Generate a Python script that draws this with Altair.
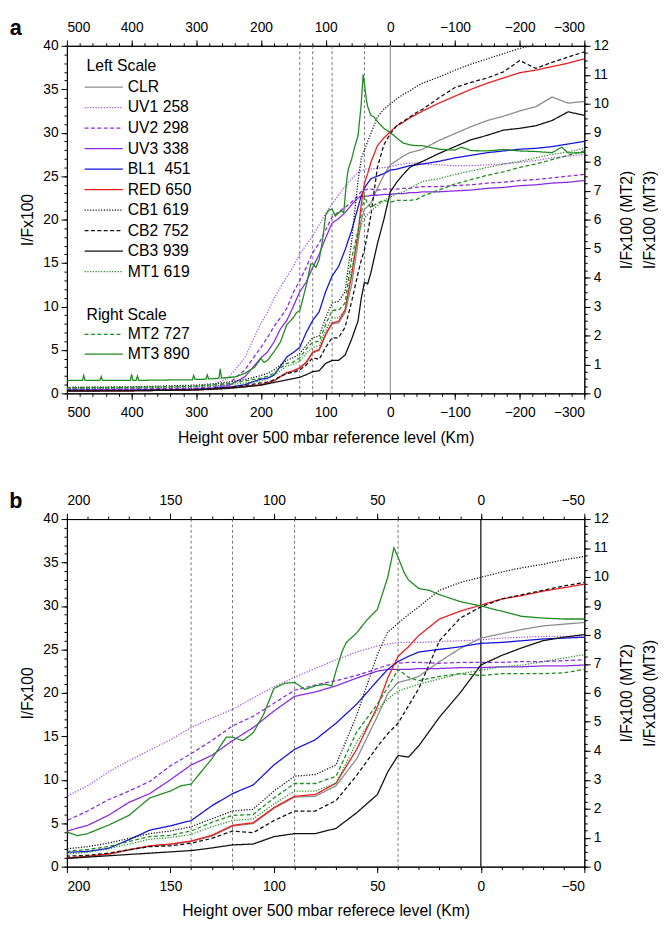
import altair as alt
import pandas as pd

# ---------------- data ----------------
H_LO = [500, 400, 300, 275, 250, 225]
H_B = [200, 190, 180, 170, 160, 150, 140, 130, 120, 110, 100, 90, 80, 70, 60, 50, 45, 40, 35, 30,
       20, 10, 0, -10, -20, -30, -40, -50]
H_HI = [-75, -100, -125, -150, -175, -200, -225, -250, -275, -300]
H_HI_CB1 = [-75, -100, -125, -150, -175, -200, -218]

CLR_LO = [0.3, 0.3, 0.4, 0.45, 0.55, 0.75]
CLR_B = [0.95, 1.15, 1.4, 1.9, 2.35, 2.55, 2.9, 3.5, 4.65, 4.95, 6.7, 8.0, 8.1, 9.3, 12.4, 17.3, 19.9,
         21.2, 21.5, 21.9, 23.6, 25.1, 26.3, 26.8, 27.3, 27.7, 27.9, 28.1]
CLR_HI = [29.1, 29.9, 30.7, 31.4, 31.9, 32.5, 33.0, 34.1, 33.4, 33.6]

UV1_LO = [0.55, 0.6, 0.75, 0.95, 1.8, 4.1]
UV1_B = [8.1, 9.3, 10.9, 12.2, 13.4, 14.6, 16.0, 17.1, 18.1, 19.4, 20.7, 21.8, 22.8, 23.8, 24.7, 25.4,
         25.6, 25.8, 25.8, 25.8, 25.9, 26.0, 26.1, 26.3, 26.4, 26.5, 26.5, 26.4]
UV1_HI = [26.3, 26.2, 26.2, 26.3, 26.4, 26.6, 26.8, 27.1, 27.3, 27.5]

UV2_LO = [0.5, 0.5, 0.6, 0.75, 1.1, 2.7]
UV2_B = [5.3, 6.4, 7.7, 8.7, 9.8, 11.6, 13.0, 14.5, 16.2, 17.3, 18.8, 20.3, 20.9, 21.4, 22.0, 22.8,
         23.2, 23.4, 23.5, 23.5, 23.4, 23.5, 23.5, 23.5, 23.6, 23.6, 23.7, 23.8]
UV2_HI = [23.8, 23.9, 24.0, 24.2, 24.3, 24.5, 24.6, 24.8, 25.0, 25.2]

UV3_LO = [0.4, 0.4, 0.5, 0.6, 0.9, 1.9]
UV3_B = [4.1, 4.75, 5.9, 7.4, 8.4, 10.0, 11.7, 12.8, 14.5, 16.0, 17.9, 19.6, 20.1, 20.8, 21.7, 22.5,
         22.7, 22.7, 22.7, 22.8, 22.8, 22.9, 22.9, 23.0, 23.0, 23.1, 23.1, 23.2]
UV3_HI = [23.2, 23.3, 23.4, 23.6, 23.7, 23.9, 24.0, 24.2, 24.3, 24.5]

BL1_LO = [0.35, 0.35, 0.45, 0.55, 0.7, 1.0]
BL1_B = [1.65, 1.75, 2.1, 3.1, 4.2, 4.7, 5.3, 7.0, 8.4, 9.4, 11.7, 13.5, 14.6, 16.5, 18.7, 21.4, 22.7,
         23.6, 24.2, 24.7, 25.0, 25.3, 25.7, 25.8, 26.0, 26.2, 26.3, 26.4]
BL1_HI = [26.7, 27.1, 27.4, 27.7, 27.9, 28.1, 28.2, 28.4, 28.7, 29.0]

RED_LO = [0.3, 0.3, 0.4, 0.5, 0.6, 0.8]
RED_B = [1.0, 1.2, 1.45, 1.95, 2.4, 2.6, 2.95, 3.6, 4.75, 5.05, 6.8, 8.1, 8.3, 9.6, 13.5, 18.4, 21.7,
         24.2, 25.3, 26.6, 28.5, 29.4, 30.1, 30.8, 31.2, 31.7, 32.1, 32.5]
RED_HI = [33.4, 34.2, 35.0, 35.7, 36.3, 36.9, 37.2, 37.6, 38.0, 38.5]

CB1_LO = [0.7, 0.75, 0.95, 1.1, 1.3, 1.6]
CB1_B = [2.05, 2.3, 2.7, 3.25, 3.8, 4.1, 4.6, 5.5, 6.4, 6.6, 8.7, 10.4, 10.6, 11.7, 17.4, 24.4, 27.0,
         28.0, 29.0, 29.9, 31.8, 32.7, 33.3, 33.9, 34.4, 34.8, 35.3, 35.7]
CB1_HI = [36.4, 37.2, 37.9, 38.5, 39.1, 39.7, 40.0]

CB2_LO = [0.35, 0.35, 0.45, 0.55, 0.7, 0.9]
CB2_B = [1.2, 1.3, 1.55, 1.95, 2.3, 2.4, 2.7, 3.25, 4.1, 3.9, 5.3, 6.4, 6.4, 7.6, 10.5, 13.8, 15.3,
         16.5, 18.5, 20.5, 26.0, 28.6, 29.9, 30.8, 31.3, 31.8, 32.3, 32.7]
CB2_HI = [34.0, 35.2, 35.8, 36.3, 37.0, 38.3, 37.4, 38.1, 38.7, 39.3]

CB3_LO = [0.25, 0.3, 0.4, 0.5, 0.6, 0.75]
CB3_B = [0.95, 1.1, 1.25, 1.4, 1.55, 1.7, 1.85, 2.15, 2.5, 2.6, 3.45, 3.8, 3.8, 4.4, 6.2, 8.3, 10.9,
         12.8, 12.6, 13.9, 17.2, 20.0, 23.2, 24.3, 25.2, 26.0, 26.4, 26.7]
CB3_HI = [27.6, 28.4, 29.2, 29.7, 30.3, 30.5, 30.8, 31.4, 32.4, 32.0]

MT1_LO = [0.55, 0.6, 0.75, 0.85, 1.0, 1.2]
MT1_B = [1.45, 1.65, 2.05, 2.6, 3.15, 3.35, 3.7, 4.6, 5.3, 5.5, 7.2, 8.7, 8.7, 9.6, 14.3, 18.0, 19.3,
         20.2, 20.6, 21.0, 21.6, 22.2, 22.6, 23.0, 23.2, 23.6, 24.0, 24.4]
MT1_HI = [24.7, 25.2, 25.6, 26.0, 26.4, 26.7, 27.1, 27.5, 27.8, 28.2]

# right scale series
MT2_LO = [0.2, 0.21, 0.25, 0.3, 0.35, 0.43]
MT2_B = [0.53, 0.59, 0.69, 0.87, 1.04, 1.08, 1.23, 1.53, 1.77, 1.80, 2.37, 2.87, 2.87, 3.12, 4.65,
         5.61, 6.18, 6.81, 6.54, 6.42, 6.57, 6.66, 6.60, 6.66, 6.66, 6.66, 6.69, 6.81]
MT2_HI = [7.02, 7.23, 7.38, 7.53, 7.65, 7.80, 7.92, 8.07, 8.22, 8.37]

MT3_H = [500, 476, 474, 472, 449, 447, 445, 402, 400, 398, 393, 391, 389, 350, 320, 306, 304, 302,
         285, 283, 281, 265, 263, 261, 240, 225, 210, 200, 195, 190, 180, 170, 160, 150, 145, 140,
         130, 123, 120, 115, 110, 105, 100, 95, 90, 85, 80, 75, 72, 70, 67, 65, 60, 55, 50, 47, 45,
         42, 40, 37, 35, 30, 25, 20, 10, 0, -10, -20, -30, -40, -50, -75, -100, -110, -125, -150,
         -175, -200, -225, -250, -265, -275, -300]
MT3_V = [0.45, 0.45, 0.62, 0.45, 0.45, 0.58, 0.45, 0.45, 0.66, 0.45, 0.45, 0.60, 0.45, 0.46, 0.47,
         0.47, 0.62, 0.48, 0.49, 0.64, 0.50, 0.52, 0.85, 0.53, 0.57, 0.69, 0.90, 1.20, 1.07, 1.14,
         1.43, 1.77, 2.37, 2.61, 2.79, 2.85, 3.72, 4.47, 4.47, 4.35, 4.62, 5.25, 6.15, 6.33, 6.36,
         6.12, 6.24, 6.30, 6.24, 6.75, 7.44, 7.74, 8.07, 8.52, 8.88, 9.54, 9.99, 11.01, 10.68, 10.14,
         9.90, 9.60, 9.54, 9.39, 9.15, 9.00, 8.82, 8.64, 8.58, 8.55, 8.55, 8.43, 8.40, 8.50, 8.38,
         8.37, 8.42, 8.37, 8.35, 8.31, 8.50, 8.30, 8.31]

NAMES = ["CLR", "UV1", "UV2", "UV3", "BL1", "RED", "CB1", "CB2", "CB3", "MT1", "MT2", "MT3"]
LABELS = ["CLR", "UV1 258", "UV2 298", "UV3 338", "BL1\u00a0 451", "RED 650", "CB1 619",
          "CB2 752", "CB3 939", "MT1 619", "MT2 727", "MT3 890"]
COLORS = ["#8c8c8c", "#a24cf0", "#8a2be2", "#8a2be2", "#1414dc", "#ee1c1c", "#111111", "#111111",
          "#111111", "#1f8c1f", "#1f8c1f", "#1f8c1f"]
DOT = [1.2, 1.6]
DASH = [4, 2.5]
SOLID = [1, 0]
DASHES = [SOLID, DOT, DASH, SOLID, SOLID, SOLID, DOT, DASH, SOLID, DOT, DASH, SOLID]

V_DASHED = [140, 120, 90, 40]

LEFT_SERIES = [
    ("CLR", H_HI, CLR_LO, CLR_B, CLR_HI), ("UV1", H_HI, UV1_LO, UV1_B, UV1_HI),
    ("UV2", H_HI, UV2_LO, UV2_B, UV2_HI), ("UV3", H_HI, UV3_LO, UV3_B, UV3_HI),
    ("BL1", H_HI, BL1_LO, BL1_B, BL1_HI), ("RED", H_HI, RED_LO, RED_B, RED_HI),
    ("CB1", H_HI_CB1, CB1_LO, CB1_B, CB1_HI), ("CB2", H_HI, CB2_LO, CB2_B, CB2_HI),
    ("CB3", H_HI, CB3_LO, CB3_B, CB3_HI), ("MT1", H_HI, MT1_LO, MT1_B, MT1_HI),
]

rows_l = []
for name, hh, lo, b, hi in LEFT_SERIES:
    for h, v in zip(H_LO + H_B + hh, lo + b + hi):
        rows_l.append({"series": name, "h": h, "v": v})
df_left = pd.DataFrame(rows_l)

rows_r = []
for h, v in zip(H_LO + H_B + H_HI, MT2_LO + MT2_B + MT2_HI):
    rows_r.append({"series": "MT2", "h": h, "v": v})
for h, v in zip(MT3_H, MT3_V):
    rows_r.append({"series": "MT3", "h": h, "v": v})
df_right = pd.DataFrame(rows_r)

# ---------------- chart ----------------
W, H = 527, 354
FONT = "Liberation Sans"
cs = alt.Scale(domain=NAMES, range=COLORS)
ds = alt.Scale(domain=NAMES, range=DASHES)

# legend layout (pixels inside plot area)
LEG_Y = [42 + 20.9 * i for i in range(10)] + [294, 314]
leg_df = pd.DataFrame({"series": NAMES, "label": LABELS, "y": LEG_Y})
head_df = pd.DataFrame({"t": ["Left Scale", "Right Scale"], "y": [21, 274]})


def panel(dom, majors, minors, xtitle, rtitle, zero_color, tag, legend):
    xs = alt.Scale(domain=dom, nice=False, zero=False)
    yl = alt.Scale(domain=[0, 40], nice=False, zero=False)
    yr = alt.Scale(domain=[0, 12], nice=False, zero=False)
    dummy = pd.DataFrame({"h": [dom[0]], "v": [0]})

    vr = alt.Chart(pd.DataFrame({"h": V_DASHED})).mark_rule(
        color="#555555", strokeWidth=0.8, strokeDash=[3, 2.5]
    ).encode(x=alt.X("h:Q", scale=xs, axis=None))
    zr = alt.Chart(pd.DataFrame({"h": [0]})).mark_rule(
        color=zero_color, strokeWidth=1.2
    ).encode(x=alt.X("h:Q", scale=xs, axis=None))

    left = alt.Chart(df_left).transform_filter(
        (alt.datum.h <= dom[0] + 30) & (alt.datum.h >= dom[1] - 30)
    ).mark_line(clip=True, strokeWidth=1.3).encode(
        x=alt.X("h:Q", scale=xs, axis=alt.Axis(orient="bottom", values=majors, format="d",
                                               title=xtitle, tickSize=6, labelPadding=7,
                                               titlePadding=10)),
        y=alt.Y("v:Q", scale=yl, axis=alt.Axis(orient="left", values=list(range(0, 41, 5)),
                                               format="d", title="I/Fx100", tickSize=6,
                                               labelPadding=3, titlePadding=7)),
        color=alt.Color("series:N", scale=cs, legend=None),
        strokeDash=alt.StrokeDash("series:N", scale=ds, legend=None),
        detail="series:N",
    )
    right = alt.Chart(df_right).transform_filter(
        (alt.datum.h <= dom[0] + 30) & (alt.datum.h >= dom[1] - 30)
    ).mark_line(clip=True, strokeWidth=1.3).encode(
        x=alt.X("h:Q", scale=xs, axis=None),
        y=alt.Y("v:Q", scale=yr, axis=alt.Axis(orient="right", values=list(range(0, 13)),
                                               format="d", title=rtitle, tickSize=6,
                                               labelPadding=3, titleAngle=270,
                                               titleBaseline="top", titleAlign="center",
                                               titleX=35, titleY=H / 2, titleLineHeight=23)),
        color=alt.Color("series:N", scale=cs, legend=None),
        strokeDash=alt.StrokeDash("series:N", scale=ds, legend=None),
        detail="series:N",
    )
    top = alt.Chart(dummy).mark_point(opacity=0).encode(
        x=alt.X("h:Q", scale=xs, axis=alt.Axis(orient="top", values=majors, format="d",
                                               title=None, tickSize=6, labelPadding=6)),
        y=alt.Y("v:Q", scale=yl, axis=None),
    )
    m1 = alt.Chart(dummy).mark_point(opacity=0).encode(
        x=alt.X("h:Q", scale=xs, axis=alt.Axis(orient="bottom", values=minors, labels=False,
                                               title=None, tickSize=3, domain=False)),
        y=alt.Y("v:Q", scale=yl, axis=alt.Axis(orient="left", values=list(range(0, 41)),
                                               labels=False, title=None, tickSize=3,
                                               domain=False)),
    )
    m2 = alt.Chart(dummy).mark_point(opacity=0).encode(
        x=alt.X("h:Q", scale=xs, axis=alt.Axis(orient="top", values=minors, labels=False,
                                               title=None, tickSize=3, domain=False)),
        y=alt.Y("v:Q", scale=yr, axis=alt.Axis(orient="right",
                                               values=[i * 0.25 for i in range(49)],
                                               labels=False, title=None, tickSize=3,
                                               domain=False)),
    )
    tagc = alt.Chart(dummy).mark_text(
        text=tag, fontSize=22, fontWeight="bold", align="center", baseline="middle", font=FONT
    ).encode(x=alt.value(-52), y=alt.value(-18))

    layers = [vr, zr, left, right, top, m1, m2, tagc]
    if legend:
        lr = alt.Chart(leg_df).mark_rule(strokeWidth=1.3).encode(
            x=alt.value(18), x2=alt.value(57), y=alt.Y("y:Q", scale=None),
            color=alt.Color("series:N", scale=cs, legend=None),
            strokeDash=alt.StrokeDash("series:N", scale=ds, legend=None),
        )
        lt = alt.Chart(leg_df).mark_text(
            align="left", baseline="middle", fontSize=16, font=FONT, color="black"
        ).encode(x=alt.value(62), y=alt.Y("y:Q", scale=None), text="label:N")
        lh = alt.Chart(head_df).mark_text(
            align="left", baseline="middle", fontSize=16, font=FONT, color="black"
        ).encode(x=alt.value(20), y=alt.Y("y:Q", scale=None), text="t:N")
        layers += [lr, lt, lh]
    return alt.layer(*layers).resolve_scale(x="independent", y="independent").properties(
        width=W, height=H
    )


pa = panel([500, -300], list(range(500, -301, -100)), list(range(500, -301, -20)),
           "Height over 500 mbar reference level (Km)", ["I/Fx100 (MT2)", "I/Fx100 (MT3)"],
           "#9a9a9a", "a", True)
pb = panel([200, -50], list(range(200, -51, -50)), list(range(200, -51, -10)),
           "Height over 500 mbar referece level (Km)", ["I/Fx100 (MT2)", "I/Fx1000 (MT3)"],
           "#000000", "b", False)

chart = alt.vconcat(pa, pb, spacing=44).properties(
    padding={"left": 0, "top": 0, "right": 0, "bottom": 0}
).configure_view(stroke="black", strokeWidth=1).configure_axis(
    labelFont=FONT, labelFontSize=14, titleFont=FONT, titleFontSize=16, titleFontWeight="normal",
    tickColor="black", domainColor="black", labelColor="black", titleColor="black", grid=False,
    domainWidth=1, tickWidth=1
)

chart.save("out.html", embed_options={"renderer": "svg", "actions": False})
